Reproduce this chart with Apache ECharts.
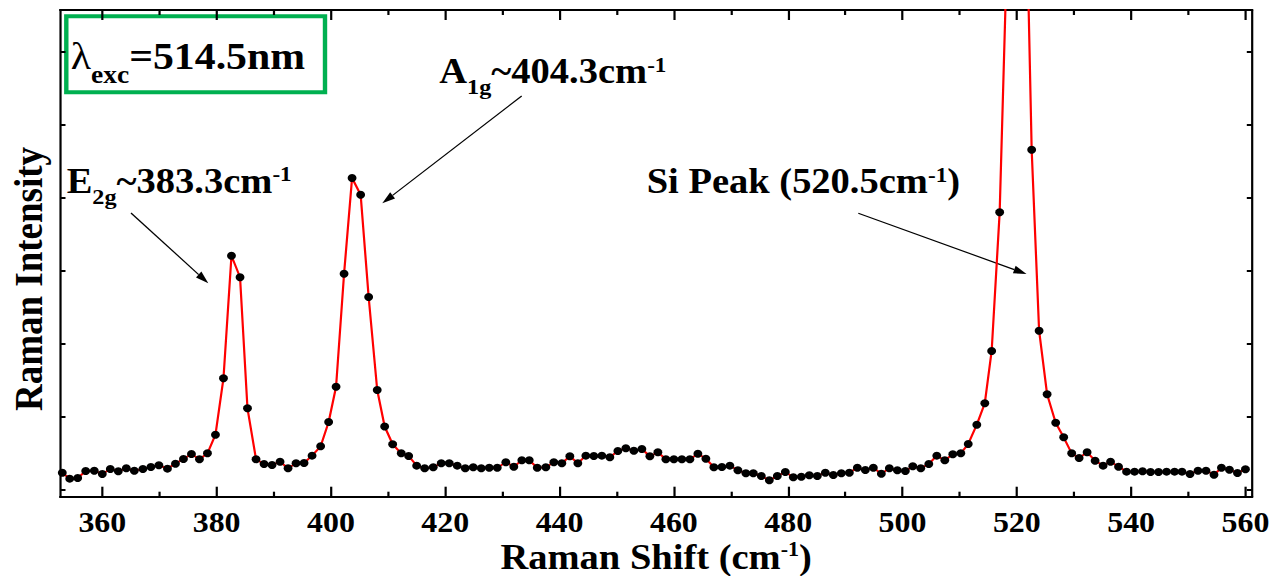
<!DOCTYPE html>
<html>
<head>
<meta charset="utf-8">
<title>Raman spectrum</title>
<script src="https://cdn.jsdelivr.net/npm/echarts@6/dist/echarts.min.js"></script>
<style>
  html, body { margin: 0; padding: 0; background: #ffffff; overflow: hidden; }
  #chart { height: 576px; transform-origin: 0 0; }
</style>
</head>
<body>
<div id="chart"></div>
<script>
// Raman shift (cm-1) of every measured point
const ramanShift = [
  353.0, 354.3, 355.7, 357.1, 358.6, 360.0, 361.4, 362.8, 364.2, 365.6,
  367.1, 368.5, 369.9, 371.4, 372.8, 374.2, 375.6, 377.0, 378.4, 379.8,
  381.2, 382.6, 384.1, 385.4, 386.9, 388.3, 389.7, 391.1, 392.5, 393.9,
  395.3, 396.7, 398.2, 399.6, 400.9, 402.3, 403.7, 405.2, 406.6, 408.1,
  409.4, 410.8, 412.3, 413.6, 415.0, 416.4, 417.9, 419.3, 420.7, 422.1,
  423.5, 424.9, 426.3, 427.7, 429.1, 430.6, 432.0, 433.4, 434.7, 436.1,
  437.6, 439.0, 440.4, 441.8, 443.2, 444.6, 446.0, 447.4, 448.8, 450.2,
  451.6, 453.0, 454.4, 455.8, 457.2, 458.6, 460.0, 461.4, 462.8, 464.2,
  465.6, 467.0, 468.4, 469.8, 471.2, 472.6, 473.9, 475.3, 476.7, 478.1,
  479.5, 480.9, 482.3, 483.7, 485.1, 486.5, 487.9, 489.3, 490.7, 492.1,
  493.5, 494.9, 496.3, 497.7, 499.1, 500.5, 501.8, 503.2, 504.6, 506.0,
  507.4, 508.8, 510.2, 511.5, 513.0, 514.4, 515.6, 517.0, 518.4, 519.8,
  521.2, 522.6, 523.9, 525.3, 526.8, 528.2, 529.6, 530.9, 532.3, 533.7,
  535.1, 536.4, 537.8, 539.2, 540.6, 542.0, 543.4, 544.8, 546.2, 547.6,
  548.9, 550.3, 551.7, 553.1, 554.5, 555.8, 557.2, 558.6, 560.0
];

// Raman intensity (counts) at each shift
const intensity = [
  237, 155, 164, 260, 264, 219, 287, 256, 297, 264,
  287, 315, 338, 292, 360, 424, 493, 420, 502, 757,
  1529, 3207, 2912, 1118, 420, 356, 342, 387, 297, 366,
  370, 470, 598, 931, 1414, 2961, 4271, 4042, 2642, 1369,
  869, 626, 502, 465, 333, 297, 311, 366, 366, 333,
  297, 311, 297, 305, 305, 379, 319, 407, 407, 305,
  311, 379, 366, 461, 366, 470, 465, 470, 448, 534,
  571, 538, 561, 461, 516, 420, 420, 420, 420, 497,
  428, 311, 315, 333, 270, 229, 229, 192, 133, 192,
  246, 174, 182, 201, 192, 237, 205, 229, 237, 305,
  274, 305, 223, 297, 270, 260, 324, 297, 356, 470,
  407, 489, 502, 630, 894, 1188, 1903, 3801, 7688, 11800,
  9758, 4658, 2181, 1310, 921, 721, 502, 438, 516, 401,
  333, 387, 319, 251, 251, 256, 246, 246, 251, 251,
  251, 219, 264, 264, 209, 305, 278, 233, 283
];

// Axis ticks
const shiftMajorTicks = [360, 380, 400, 420, 440, 460, 480, 500, 520, 540, 560];
const shiftMinorTicks = [370, 390, 410, 430, 450, 470, 490, 510, 530, 550];
const intensityTicks = [0, 1000, 2000, 3000, 4000, 5000, 6000];

// Axis ranges
const shiftRange = [352.6, 561.2];
const intensityRange = [-92, 6571];

// Page size and the horizontal stretch applied to the drawing
const PAGE_W = 1272, PAGE_H = 576;
const STRETCH_X = 1.1;
const CHART_W = Math.round(PAGE_W / STRETCH_X);
const chartDom = document.getElementById('chart');
chartDom.style.width = CHART_W + 'px';
chartDom.style.transform = 'scaleX(' + (PAGE_W / CHART_W) + ')';
const px = (x) => x * CHART_W / PAGE_W;   // page x -> chart x

const FONT = '"Liberation Serif", "Times New Roman", Times, serif';

// Rich-text helpers: every token is top aligned in its line; a main token of
// size F and line height L has its baseline L/2 + 0.34*F below the line top.
function baseOffset(F, L) { return L / 2 + 0.34 * F; }
function mainStyle(F, weight, L) {
  return { fontFamily: FONT, fontWeight: weight || 'bold', fontSize: F, lineHeight: L || F,
           color: '#000', verticalAlign: 'top' };
}
// token of size f whose baseline is d px below the baseline of the main text
function shiftedStyle(F, f, d, L) {
  const c = baseOffset(F, L || F) + d - 0.34 * f;
  const s = { fontFamily: FONT, fontWeight: 'bold', fontSize: f, color: '#000', verticalAlign: 'top' };
  if (c >= f / 2) { s.lineHeight = f; s.padding = [c - f / 2, 0, 0, 0]; }
  else { s.lineHeight = 2 * c; }
  return s;
}
function richText(left, baseline, F, text, rich) {
  return {
    type: 'text', x: px(left), y: baseline - baseOffset(F, F), silent: true,
    style: { text: text, rich: rich, align: 'left', verticalAlign: 'top' }
  };
}
function arrow(x1, y1, x2, y2) {
  const ang = Math.atan2(y2 - y1, x2 - x1);
  const L = 13, HW = 4;
  const bx = x2 - L * Math.cos(ang), by = y2 - L * Math.sin(ang);
  const nx = -Math.sin(ang) * HW, ny = Math.cos(ang) * HW;
  return [
    { type: 'line', silent: true,
      shape: { x1: px(x1), y1: y1, x2: px(bx), y2: by },
      style: { stroke: '#000', lineWidth: 1.2 } },
    { type: 'polygon', silent: true,
      shape: { points: [[px(x2), y2], [px(bx + nx), by + ny], [px(bx - nx), by - ny]] },
      style: { fill: '#000' } }
  ];
}

const AXIS_LINE = { color: '#000', width: 2 };
const xBase = {
  type: 'value', min: shiftRange[0], max: shiftRange[1],
  splitLine: { show: false }, axisLabel: { show: false },
  axisLine: { show: false, onZero: false }, axisTick: { show: false }
};
const yBase = {
  type: 'value', min: intensityRange[0], max: intensityRange[1],
  splitLine: { show: false }, axisLabel: { show: false },
  axisLine: { show: true, onZero: false, lineStyle: AXIS_LINE },
  axisTick: { show: true, inside: true, length: 5, customValues: intensityTicks, lineStyle: AXIS_LINE }
};

const annoF = 35;
const titleF = 35, titleL = 30, titleBaseline = 566.5;
const tickF = 29;
const AXIS_Y = 496.7;
const graphics = [
  // excitation wavelength box
  { type: 'rect', silent: true,
    shape: { x: px(66.3), y: 16.3, width: px(325) - px(66.3), height: 76 },
    style: { fill: 'none', stroke: '#00b050', lineWidth: 4 } },
  richText(70.7, 69, 38, '{l|λ}{s|exc}{m|=514.5nm}', {
    l: mainStyle(38, 'normal'), m: mainStyle(38), s: shiftedStyle(38, 25, 14.3)
  }),
  richText(66.7, 193.2, annoF, '{m|E}{s|2g}{m|~383.3cm}{p|-1}', {
    m: mainStyle(annoF), s: shiftedStyle(annoF, 22, 11), p: shiftedStyle(annoF, 21, -12)
  }),
  richText(439.3, 83.3, annoF, '{m|A}{s|1g}{m|~404.3cm}{p|-1}', {
    m: mainStyle(annoF), s: shiftedStyle(annoF, 22, 11), p: shiftedStyle(annoF, 21, -12)
  }),
  richText(646.7, 193.3, annoF, '{m|Si Peak (520.5cm}{p|-1}{m|)}', {
    m: mainStyle(annoF), p: shiftedStyle(annoF, 21, -12)
  }),
  // y axis title
  { type: 'text', silent: true, x: px(28), y: 279, rotation: Math.PI / 2,
    style: { text: 'Raman Intensity', fontFamily: FONT, fontWeight: 'bold', fontSize: 37,
             lineHeight: 37, fill: '#000', align: 'center', verticalAlign: 'middle' } }
].concat(
  arrow(131, 213, 208.3, 283.3),
  arrow(521.7, 96, 382.3, 203.3),
  arrow(858.3, 213.3, 1026.5, 274)
);

const chart = echarts.init(chartDom, null, { renderer: 'svg', width: CHART_W, height: PAGE_H });
chart.setOption({
  animation: false,
  backgroundColor: '#ffffff',
  grid: { left: px(60), right: CHART_W - px(1252.3), top: 10, bottom: PAGE_H - AXIS_Y,
          containLabel: false, outerBoundsMode: 'none' },
  xAxis: [
    Object.assign({}, xBase, {
      position: 'bottom',
      axisLine: { show: true, onZero: false, lineStyle: AXIS_LINE },
      axisTick: { show: true, inside: true, length: 10, customValues: shiftMajorTicks, lineStyle: AXIS_LINE },
      axisLabel: { show: true, customValues: shiftMajorTicks, margin: 11,
                   fontFamily: FONT, fontWeight: 'bold', fontSize: tickF, lineHeight: tickF, color: '#000' },
      name: '{t|Raman Shift (cm}{s|-1}{t|)}',
      nameLocation: 'middle',
      nameGap: titleBaseline - baseOffset(titleF, titleL) - AXIS_Y,
      nameMoveOverlap: false,
      nameTextStyle: { rich: {
        t: mainStyle(titleF, 'bold', titleL),
        s: shiftedStyle(titleF, 20, -15.6, titleL)
      } }
    }),
    Object.assign({}, xBase, {
      position: 'bottom',
      axisTick: { show: true, inside: true, length: 5, customValues: shiftMinorTicks, lineStyle: AXIS_LINE }
    }),
    Object.assign({}, xBase, {
      position: 'top',
      axisLine: { show: true, onZero: false, lineStyle: AXIS_LINE },
      axisTick: { show: true, inside: true, length: 10, customValues: shiftMajorTicks, lineStyle: AXIS_LINE }
    }),
    Object.assign({}, xBase, {
      position: 'top',
      axisTick: { show: true, inside: true, length: 5, customValues: shiftMinorTicks, lineStyle: AXIS_LINE }
    })
  ],
  yAxis: [
    Object.assign({}, yBase, { position: 'left' }),
    Object.assign({}, yBase, { position: 'right' })
  ],
  series: [{
    type: 'line',
    xAxisIndex: 0, yAxisIndex: 0,
    data: ramanShift.map((x, i) => [x, intensity[i]]),
    smooth: false,
    clip: true,
    showAllSymbol: true,
    symbol: 'circle',
    symbolSize: 8,
    lineStyle: { color: '#ff0000', width: 2 },
    itemStyle: { color: '#000000' },
    emphasis: { disabled: true }
  }],
  graphic: graphics
});
</script>
</body>
</html>
